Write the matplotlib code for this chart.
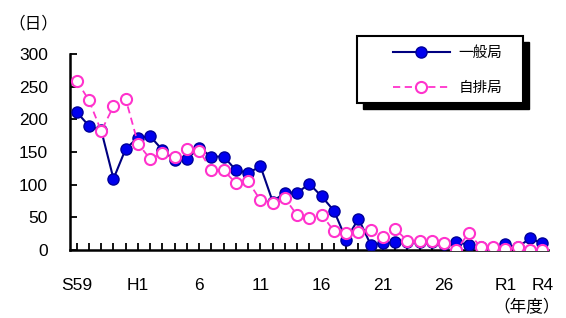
import numpy as np
import matplotlib.pyplot as plt
from matplotlib.patches import Rectangle

plt.rcParams['font.family'] = ['Liberation Sans', 'Noto Sans CJK JP']

# fiscal years S59 (1984) .. R4 (2022)
years = list(range(1984, 2023))
tick_years = [1984, 1989, 1994, 1999, 2004, 2009, 2014, 2019, 2022]
tick_labels = ['S59', 'H1', '6', '11', '16', '21', '26', 'R1', 'R4']

# days over the standard
general = [211, 190, 183, 109, 155, 172, 174, 153, 137, 140, 156, 143, 143, 122,
           118, 128, 74, 88, 88, 101, 82, 60, 16, 48, 8, 10, 12, 13, 13, 13,
           9, 12, 8, 4, 1, 9, 4, 18, 10]
roadside = [259, 229, 182, 220, 231, 163, 139, 149, 142, 154, 152, 122, 122, 102,
            105, 76, 72, 79, 53, 49, 54, 29, 26, 27, 31, 20, 32, 14, 14, 14,
            11, 0, 26, 4, 4, 1, 4, 0, 0]

W, H = 566, 318
fig = plt.figure(figsize=(W / 100, H / 100), dpi=100)
ax = fig.add_axes([70 / W, (H - 250) / H, 478 / W, 196 / H])

x = np.array(years)
l1, = ax.plot(x, general, color='#000080', lw=1.5, marker='o', ms=8,
              mfc='#0000EE', mec='#00009A', mew=1, label='一般局', zorder=3)
l2, = ax.plot(x, roadside, color='#FF33CC', lw=1.3, ls=(0, (4, 2.5)), marker='o', ms=8,
              mfc='white', mec='#FF33CC', mew=1.5, label='自排局', zorder=4)

ax.set_xlim(years[0] - 0.55, years[-1] + 0.47)
ax.set_ylim(0, 300)
ax.set_yticks(range(0, 301, 50))
ax.set_xticks(years, minor=True)
ax.set_xticks(tick_years)
ax.set_xticklabels(tick_labels)
for s in ['top', 'right']:
    ax.spines[s].set_visible(False)
for s in ['left', 'bottom']:
    ax.spines[s].set_linewidth(1.8)
ax.tick_params(axis='both', which='both', direction='in', width=1.3, length=5,
               labelsize=12.5)
ax.tick_params(axis='x', which='major', pad=20, length=5)
ax.tick_params(axis='y', pad=16)
ax.patch.set_visible(False)

fig.text(33 / W, 1 - 23 / H, '（日）', ha='center', va='center', fontsize=12)
fig.text(527 / W, 1 - 307 / H, '（年度）', ha='center', va='center', fontsize=12)

# legend box with hard shadow
fig.patches.append(Rectangle((363 / W, 1 - 109 / H), 166 / W, 67 / H,
                             transform=fig.transFigure, facecolor='black',
                             edgecolor='black', zorder=5))
fig.patches.append(Rectangle((357 / W, 1 - 103 / H), 166 / W, 67 / H,
                             transform=fig.transFigure, facecolor='white',
                             edgecolor='black', lw=1.5, zorder=6))
leg = fig.legend(handles=[l1, l2], loc='upper left', bbox_to_anchor=(393 / W, 1 - 46 / H),
                 bbox_transform=fig.transFigure, frameon=False, fontsize=10.5,
                 handlelength=3.9, handletextpad=0.6, labelspacing=1.45,
                 borderpad=0, borderaxespad=0)
leg.set_zorder(7)

fig.savefig('out.png', dpi=100)
